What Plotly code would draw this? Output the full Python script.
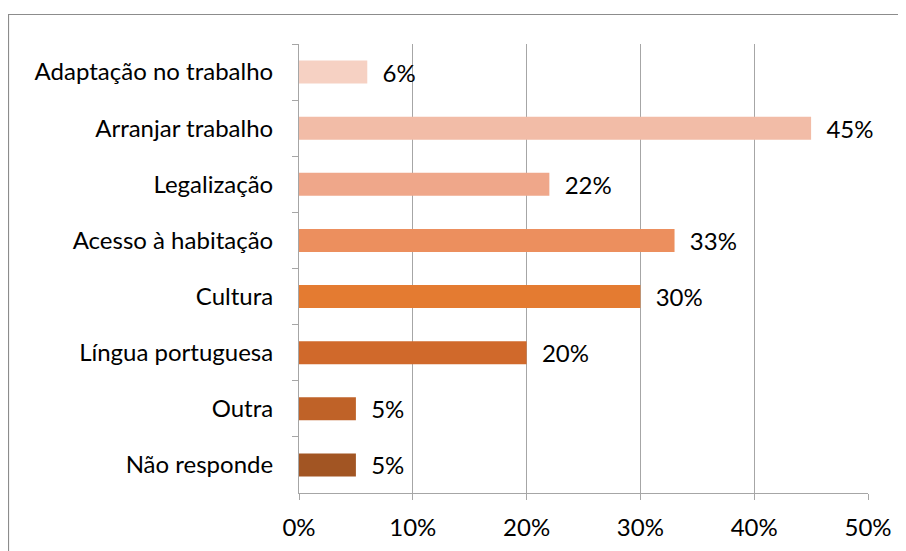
import plotly.graph_objects as go

categories = ["Adaptação no trabalho", "Arranjar trabalho", "Legalização", "Acesso à habitação",
              "Cultura", "Língua portuguesa", "Outra", "Não responde"]
values = [0.06, 0.45, 0.22, 0.33, 0.30, 0.20, 0.05, 0.05]
colors = ["#F6D1C3", "#F2BCA7", "#EFA78A", "#EC8F5E", "#E47B31", "#D0692B", "#BF6228", "#A25523"]
x_ticks = [0, 0.1, 0.2, 0.3, 0.4, 0.5]
x_tick_labels = ["0%", "10%", "20%", "30%", "40%", "50%"]

FONT = "Lato, Carlito, Calibri, sans-serif"
FS = 24
# page has 8px body margin: figure starts at (8, 8)
W, H = 898, 543
L, R, T, B = 291, 38, 36, 58

fig = go.Figure(go.Bar(
    y=categories, x=values, orientation="h",
    marker=dict(color=colors, line=dict(width=0)),
    text=[f"{round(v*100)}%" for v in values],
    texttemplate="  %{text}",
    textposition="outside", cliponaxis=False, constraintext="none",
    textfont=dict(family=FONT, size=FS, color="#000000"),
))

pw, ph = W - L - R, H - T - B
fig.add_shape(type="rect", xref="paper", yref="paper",
              x0=(0.5 - L) / pw, x1=(W + 5 - L) / pw,
              y0=-(B + 5) / ph, y1=1 + (T - 6.5) / ph,
              line=dict(color="#8C8C8C", width=1.2), fillcolor="rgba(0,0,0,0)", layer="below")

fig.update_layout(
    width=W, height=H,
    margin=dict(l=L, r=R, t=T, b=B, autoexpand=False),
    paper_bgcolor="white", plot_bgcolor="white",
    showlegend=False,
    bargap=0.59,
    font=dict(family=FONT, size=FS, color="#000000"),
    xaxis=dict(range=[0, 0.5], tickvals=x_ticks, ticktext=x_tick_labels,
               showgrid=True, gridcolor="#A6A6A6", gridwidth=1,
               showline=True, linecolor="#A6A6A6", linewidth=1,
               ticks="outside", ticklen=6, tickcolor="#A6A6A6",
               ticklabelstandoff=7, zeroline=False,
               tickfont=dict(family=FONT, size=FS, color="#000000")),
    yaxis=dict(autorange="reversed", type="category",
               showline=True, linecolor="#A6A6A6", linewidth=1,
               ticks="outside", ticklen=6, tickcolor="#A6A6A6",
               tickson="boundaries", ticklabelstandoff=20,
               showgrid=False,
               tickfont=dict(family=FONT, size=FS, color="#000000")),
)

fig.write_html("out.html")
